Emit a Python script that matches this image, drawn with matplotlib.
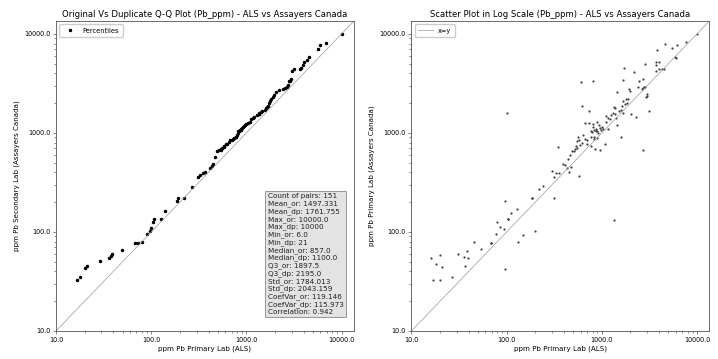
import numpy as np
import matplotlib
matplotlib.use('Agg')
import matplotlib.pyplot as plt
from matplotlib.ticker import FuncFormatter

# Pb ppm pairs (ALS original vs Assayers Canada duplicate)
als = [6, 16, 17, 18, 20, 20, 21, 27, 31, 36, 37, 38, 39, 45, 54, 68, 68, 77, 80, 86,
       94, 97, 97, 104, 104, 110, 128, 131, 149, 185, 185, 197, 219, 244, 313, 1350,
       10000, 7600, 6200, 5470, 4600, 3800, 5900, 6000, 2860, 3700, 4000, 3700, 3750, 4000,
       4260, 4470, 1730, 2170, 2680, 2410, 2680, 2640, 2840, 2910, 3000, 3130, 2730, 2040,
       2280, 1690, 1800, 1890, 1850, 1770, 1650, 1610, 1530, 1660, 1440, 1350, 1460, 1590,
       600, 815, 620, 730, 102, 660, 730, 800, 880, 930, 800, 835, 780, 860, 966, 1030,
       1155, 1175, 1260, 1360, 1420, 1110, 1215, 640, 770, 835, 880, 820, 975, 950, 850,
       1090, 765, 705, 560, 580, 550, 535, 515, 490, 460, 445, 350, 387, 410, 426, 447,
       470, 580, 298, 328, 355, 317,
       1680, 2470, 1940, 1960, 1370, 1300, 2960, 2800,
       776, 667, 620, 585, 543, 518, 914, 877, 1000, 1120, 700, 900]
assayers = [21, 54, 33, 48, 59, 33, 44, 35, 60, 56, 45, 64, 55, 79, 68, 77, 77, 96, 125, 111,
            108, 204, 42, 136, 136, 156, 171, 79, 94, 219, 219, 102, 270, 294, 222, 132,
            10000, 8200, 7700, 7280, 7900, 6800, 5800, 5700, 5000, 5200, 5200, 4800, 4260, 4440,
            4400, 4440, 4540, 4100, 3480, 2890, 2840, 2760, 2890, 2330, 2500, 1670, 680, 1540,
            1440, 2100, 2190, 2200, 2020, 1980, 1870, 1720, 1670, 1580, 2590, 1820, 1200, 900,
            3250, 3350, 1870, 1670, 1600, 1250, 1260, 1220, 1300, 1210, 1150, 1070, 1020, 1100, 1130, 1100,
            1090, 1420, 1510, 1560, 1410, 1490, 1370, 960, 1050, 920, 880, 860, 1060, 680, 685,
            770, 730, 780, 900, 850, 820, 740, 660, 650, 595, 540, 716, 490, 480, 440, 405,
            455, 368, 410, 392, 392, 355,
            3400, 3350, 2780, 2650, 1780, 1600, 2370, 2900,
            900, 869, 800, 760, 711, 690, 1000, 1050, 1150, 1300, 850, 1050]

stats_lines = ["Count of pairs: 151", "Mean_or: 1497.331", "Mean_dp: 1761.755",
               "Max_or: 10000.0", "Max_dp: 10000", "Min_or: 6.0", "Min_dp: 21",
               "Median_or: 857.0", "Median_dp: 1100.0", "Q3_or: 1897.5", "Q3_dp: 2195.0",
               "Std_or: 1784.013", "Std_dp: 2043.159", "CoefVar_or: 119.146",
               "CoefVar_dp: 115.973", "Correlation: 0.942"]

lims = [10, 13500]
pct = np.arange(0, 101)
qq_x = np.percentile(als, pct)
qq_y = np.percentile(assayers, pct)

fig = plt.figure(figsize=(7.18, 3.59), dpi=100)
ax1 = fig.add_axes([0.078, 0.078, 0.415, 0.8635])
ax2 = fig.add_axes([0.573, 0.078, 0.415, 0.8635])

fmt = FuncFormatter(lambda v, p: f"{v:.1f}")

ax1.plot(qq_x, qq_y, '.', color='black', markersize=3, label='Percentiles')
ax1.plot(lims, lims, color='#999999', linewidth=0.5)
ax1.text(0.966, 0.052, "\n".join(stats_lines), transform=ax1.transAxes, ha='right', va='bottom',
         multialignment='left', fontsize=5.2, color='#222222', linespacing=1.2,
         bbox=dict(boxstyle='square,pad=0.35', facecolor='#e3e3e3', edgecolor='#888888', linewidth=0.6))
ax1.set_title("Original Vs Duplicate Q-Q Plot (Pb_ppm) - ALS vs Assayers Canada", fontsize=6.1, pad=3)
ax1.set_xlabel("ppm Pb Primary Lab (ALS)", fontsize=5.1, labelpad=2)
ax1.set_ylabel("ppm Pb Secondary Lab (Assayers Canada)", fontsize=5.1, labelpad=3)

ax2.plot(als, assayers, 'o', color='#222222', markersize=1.6, markeredgewidth=0, alpha=0.85)
ax2.plot(lims, lims, color='#999999', linewidth=0.5, label='x=y')
ax2.set_title("Scatter Plot in Log Scale (Pb_ppm) - ALS vs Assayers Canada", fontsize=6.1, pad=3)
ax2.set_xlabel("ppm Pb Primary Lab (ALS)", fontsize=5.1, labelpad=2)
ax2.set_ylabel("ppm Pb Primary Lab (Assayers Canada)", fontsize=5.1, labelpad=3)

for ax in (ax1, ax2):
    ax.set_xscale('log')
    ax.set_yscale('log')
    ax.set_xlim(lims)
    ax.set_ylim(lims)
    ax.xaxis.set_major_formatter(fmt)
    ax.yaxis.set_major_formatter(fmt)
    ax.tick_params(which='both', labelsize=4.7, width=0.5, color='#555555', pad=1.5)
    ax.tick_params(which='major', length=2.5)
    ax.tick_params(which='minor', length=1.5)
    for s in ax.spines.values():
        s.set_linewidth(0.6)
        s.set_color('#555555')
    ax.legend(loc='upper left', fontsize=4.8, handlelength=2.2, borderpad=0.5,
              framealpha=1, edgecolor='#cccccc')

fig.savefig('out.png', dpi=100)
